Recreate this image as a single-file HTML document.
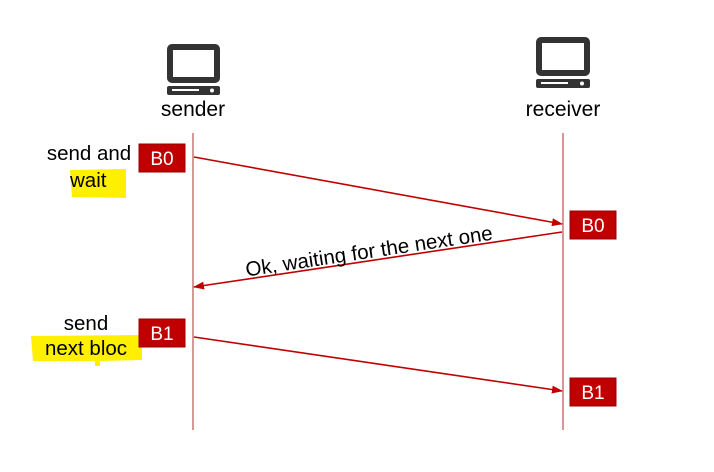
<!DOCTYPE html>
<html><head><meta charset="utf-8"><style>
body{margin:0;background:#fff;}
svg{display:block;font-family:"Liberation Sans",sans-serif;}
</style></head><body>
<svg width="714" height="472" viewBox="0 0 714 472">
<defs><marker id="ah" markerWidth="11" markerHeight="8" refX="10" refY="4" orient="auto" markerUnits="userSpaceOnUse"><path d="M0,0 L11,4 L0,8 z" fill="#c00000"/></marker></defs>
<g fill="#333">
<rect x="167" y="44" width="53" height="39" rx="5"/><rect x="173" y="50" width="41" height="27" fill="#fff"/>
<rect x="167" y="86" width="53" height="9" rx="2"/><rect x="172" y="89" width="27" height="2" fill="#fff"/><circle cx="212" cy="90.5" r="2" fill="#fff"/>
</g>
<g fill="#333">
<rect x="536" y="37" width="54" height="39" rx="5"/><rect x="542" y="43" width="42" height="27" fill="#fff"/>
<rect x="536" y="79" width="54" height="9" rx="2"/><rect x="541" y="82" width="27" height="2" fill="#fff"/><circle cx="582" cy="83.5" r="2" fill="#fff"/>
</g>
<text x="193" y="116" font-size="21" text-anchor="middle">sender</text>
<text x="563" y="116" font-size="21" text-anchor="middle">receiver</text>
<line x1="193" y1="133" x2="193" y2="430" stroke="#c0504d" stroke-width="1.2"/>
<line x1="563" y1="133" x2="563" y2="430" stroke="#c0504d" stroke-width="1.2"/>
<path d="M70,170 L126,169 L126,198 L72,197 Z" fill="#ffef00"/>
<path d="M31,336 L142,335 L142,360 L100,361 L100,366 L95,366 L95,361 L33,361 Z" fill="#ffef00"/>
<text x="89" y="160" font-size="20.5" text-anchor="middle">send and</text>
<text x="70" y="187" font-size="20.5">wait</text>
<text x="86" y="330" font-size="20.5" text-anchor="middle">send</text>
<text x="86" y="355" font-size="20.5" text-anchor="middle">next bloc</text>
<g><rect x="139" y="144" width="46" height="28" fill="#c00000" stroke="#900" /><text x="162" y="165" font-size="19" fill="#fff" text-anchor="middle">B0</text></g>
<g><rect x="570" y="211" width="46" height="28" fill="#c00000" stroke="#900"/><text x="593" y="232" font-size="19" fill="#fff" text-anchor="middle">B0</text></g>
<g><rect x="139" y="319" width="46" height="28" fill="#c00000" stroke="#900"/><text x="162" y="340" font-size="19" fill="#fff" text-anchor="middle">B1</text></g>
<g><rect x="570" y="378" width="46" height="28" fill="#c00000" stroke="#900"/><text x="593" y="399" font-size="19" fill="#fff" text-anchor="middle">B1</text></g>
<line x1="194" y1="157" x2="562" y2="224" stroke="#c00000" stroke-width="1.6" marker-end="url(#ah)"/>
<line x1="562" y1="232" x2="194" y2="287" stroke="#c00000" stroke-width="1.6" marker-end="url(#ah)"/>
<line x1="194" y1="337" x2="562" y2="391" stroke="#c00000" stroke-width="1.6" marker-end="url(#ah)"/>
<text x="370" y="258" font-size="20.5" text-anchor="middle" transform="rotate(-8.5 370 258)">Ok, waiting for the next one</text>
</svg>
</body></html>
